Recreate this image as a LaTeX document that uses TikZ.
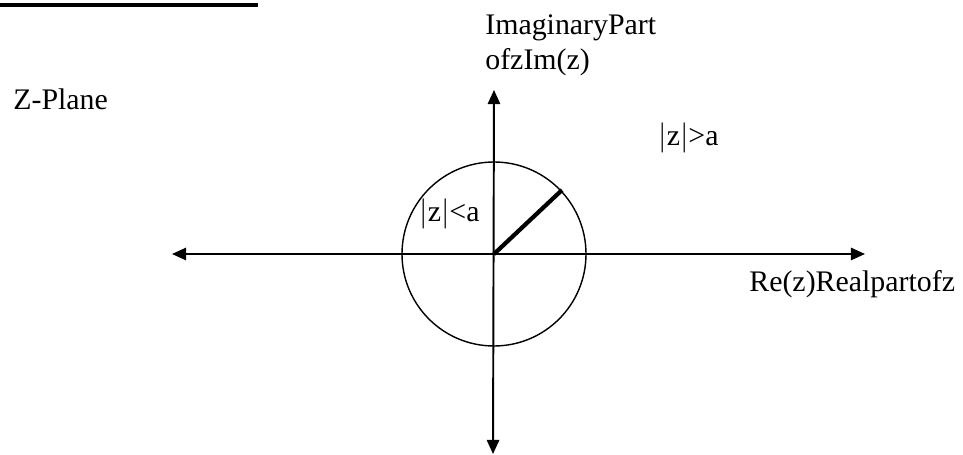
\documentclass[tikz,border=0pt]{standalone}
\usepackage{fontspec}
\setmainfont{Liberation Serif}
\usetikzlibrary{arrows.meta}
\begin{document}
\begin{tikzpicture}[x=0.02cm,y=-0.02cm,
  axis/.style={line width=1.1pt,{Triangle[length=8pt,width=7pt]}-{Triangle[length=8pt,width=7pt]}},
  lbl/.style={anchor=base west,inner sep=0pt,font=\fontsize{17}{20}\selectfont}]
\useasboundingbox (0,0) rectangle (963,455);
\coordinate (o) at (494,254);
\coordinate (l) at (172,254);
\coordinate (r) at (865,254);
\coordinate (t) at (494,90);
\coordinate (b) at (493,454);
\coordinate (p) at (562,190);
\draw[line width=2.2pt] (0,5) -- (258,5);
\draw[axis] (l) -- (r);
\draw[axis] (t) -- (b);
\draw[line width=0.8pt] (o) circle (92);
\draw[line width=2.4pt] (o) -- (p);
\node[lbl] (zplane) at (13,110) {Z-Plane};
\node[lbl] (imag) at (485,35) {ImaginaryPart};
\node[lbl] (imagz) at (485,70) {ofzIm(z)};
\node[lbl] (outer) at (658,146) {$|$z$|$>a};
\node[lbl] (inner) at (419,222) {$|$z$|$<a};
\node[lbl] (real) at (749,292) {Re(z)Realpartofz};
\end{tikzpicture}
\end{document}
